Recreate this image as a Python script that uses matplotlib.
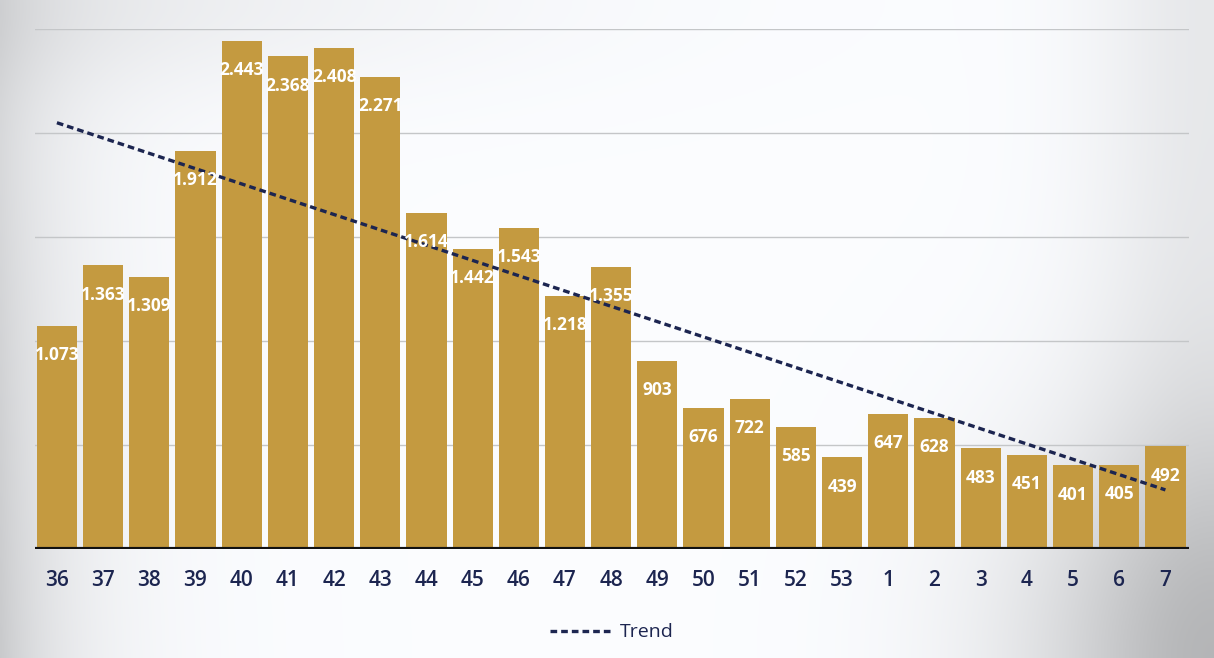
import numpy as np
import matplotlib
matplotlib.use("Agg")
import matplotlib.pyplot as plt

weeks = ["36", "37", "38", "39", "40", "41", "42", "43", "44", "45", "46", "47", "48",
         "49", "50", "51", "52", "53", "1", "2", "3", "4", "5", "6", "7"]
values = [1073, 1363, 1309, 1912, 2443, 2368, 2408, 2271, 1614, 1442, 1543, 1218, 1355,
          903, 676, 722, 585, 439, 647, 628, 483, 451, 401, 405, 492]
grid_levels = [500, 1000, 1500, 2000, 2500]

plt.rcParams['font.family'] = ['Open Sans', 'DejaVu Sans']
bar_color = "#C49A40"
navy = "#1C2550"

fig = plt.figure(figsize=(12.14, 6.58), dpi=100)

# scanned-slide look: grey on the left edge and the lower right corner
bg = fig.add_axes([0, 0, 1, 1], zorder=-10)
yy, xx = np.mgrid[0:1:300j, 0:1:560j]
shade = 1.0
shade = shade - 0.20 * np.exp(-xx / 0.06) * (0.6 + 0.4 * (1 - yy))
shade = shade - 0.20 * np.exp(-((1 - xx) ** 2 / 0.03 + yy ** 2 / 0.12))
shade = shade - 0.08 * np.exp(-((1 - xx) ** 2 / 0.01))
shade = shade - 0.06 * np.exp(-((1 - yy) ** 2 / 0.02 + xx ** 2 / 0.15))
shade = np.clip(shade, 0.7, 1)
rgb = np.dstack([shade * 0.985, shade * 0.99, shade * 1.0])
bg.imshow(rgb, extent=[0, 1, 0, 1], aspect="auto", origin="lower")
bg.axis("off")

ax = fig.add_axes([0.029, 0.166, 0.950, 0.790])
ax.patch.set_alpha(0)
x = np.arange(len(values))

for g in grid_levels:
    ax.axhline(g, color="#c4c6c8", linewidth=1, zorder=0)

ax.bar(x, values, width=0.87, color=bar_color, zorder=2)
ax.axhline(0, color="#111111", linewidth=3, zorder=3)

# linear trend through the weekly values
k, b = np.polyfit(x, values, 1)
ax.plot(x[[0, -1]], k * x[[0, -1]] + b, linestyle=(0, (2.0, 1.2)), color=navy,
        linewidth=2.4, zorder=4, label="Trend")

for xi, v in zip(x, values):
    lab = f"{v:,}".replace(",", ".")
    ax.annotate(lab, (xi, v), xytext=(0, -21), textcoords="offset points",
                ha="center", va="center", color="white", fontsize=12.5,
                fontweight="bold", zorder=5)

ax.set_xlim(-0.47, len(values) - 0.5)
ax.set_ylim(0, 2500)
ax.set_xticks(x)
ax.set_xticklabels(weeks, fontsize=15, color=navy, fontweight="semibold")
ax.tick_params(axis="x", length=0, pad=15)
ax.set_yticks([])
for s in ax.spines.values():
    s.set_visible(False)

leg = ax.legend(loc="upper center", bbox_to_anchor=(0.5, -0.11), frameon=False,
                fontsize=14, handlelength=3.2, handletextpad=0.4)
for t in leg.get_texts():
    t.set_color(navy)

fig.savefig("out.png", dpi=100)
